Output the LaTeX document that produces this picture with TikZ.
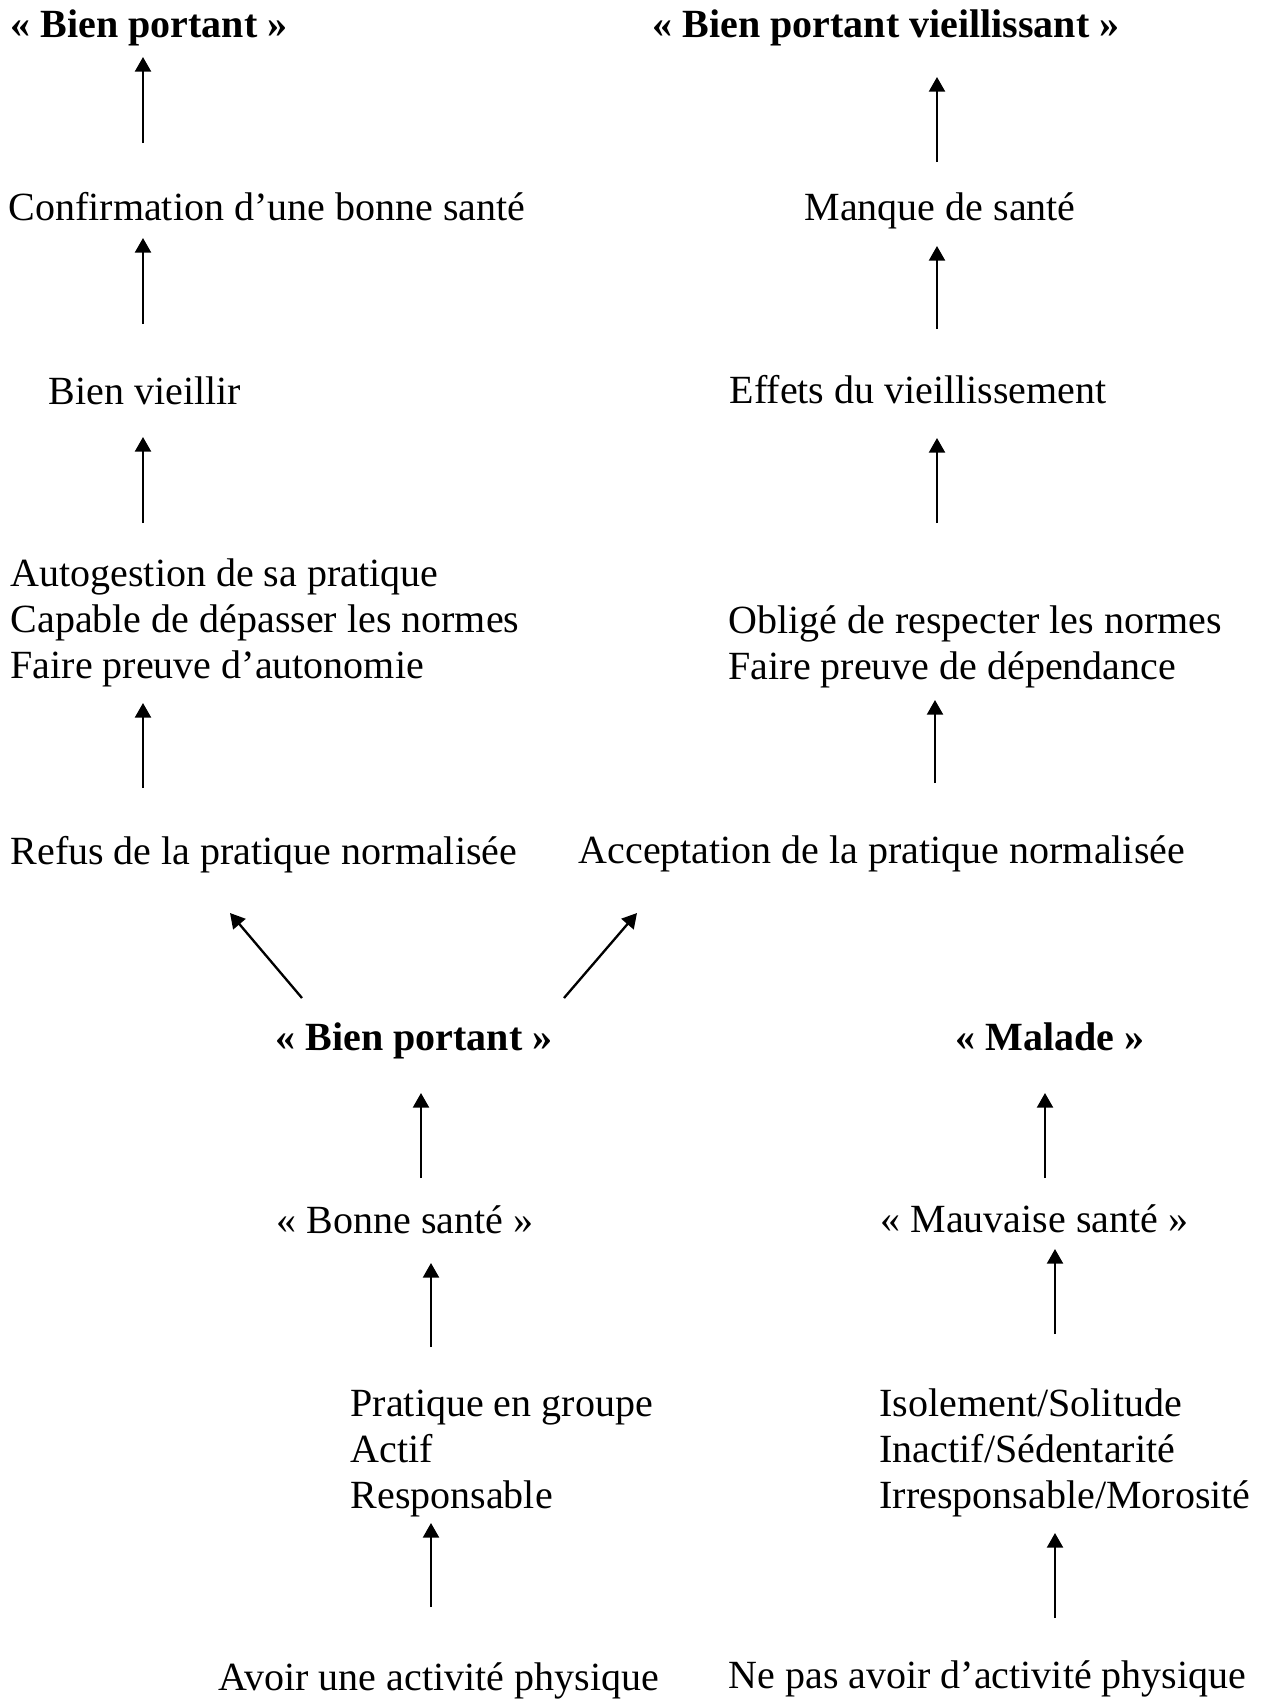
\documentclass[tikz,border=0pt]{standalone}
\usepackage{fontspec}
\setmainfont{Liberation Serif}
\usetikzlibrary{arrows.meta}
\begin{document}
\begin{tikzpicture}
    [
        x=0.3pt, y=-0.3pt,
        txt/.style={anchor=base west, inner sep=0pt, align=left, font=\fontsize{12pt}{13.7pt}\selectfont},
        title/.style={txt, font=\fontsize{12pt}{13.7pt}\selectfont\bfseries},
        arr/.style={-{Triangle[length=4.4pt, width=4.8pt]}, line width=0.7pt},
    ]
    \useasboundingbox (0,0) rectangle (1261,1702);

    % upper part
    \node (bienportant) at (10,37) [title] {«~Bien portant~»};
    \node (bpvieux) at (652,37) [title] {«~Bien portant vieillissant~»};
    \node (confirm) at (8,220) [txt] {Confirmation d’une bonne santé};
    \node (manque) at (804,220) [txt] {Manque de santé};
    \node (vieillir) at (48,404) [txt] {Bien vieillir};
    \node (effets) at (729,403) [txt] {Effets du vieillissement};
    \node (autogestion) at (10,678) [txt] {Autogestion de sa pratique\\Capable de dépasser les normes\\Faire preuve d’autonomie};
    \node (oblige) at (728,679) [txt] {Obligé de respecter les normes\\Faire preuve de dépendance};
    \node (refus) at (10,864) [txt] {Refus de la pratique normalisée};
    \node (accept) at (578,863) [txt] {Acceptation de la pratique normalisée};

    % lower part
    \node (bienportantb) at (275,1050) [title] {«~Bien portant~»};
    \node (malade) at (955,1050) [title] {«~Malade~»};
    \node (bonne) at (276,1233) [txt] {«~Bonne santé~»};
    \node (mauvaise) at (880,1232) [txt] {«~Mauvaise santé~»};
    \node (groupe) at (350,1508) [txt] {Pratique en groupe\\Actif\\Responsable};
    \node (isolement) at (879,1508) [txt] {Isolement/Solitude\\Inactif/Sédentarité\\Irresponsable/Morosité};
    \node (avoir) at (218,1690) [txt] {Avoir une activité physique};
    \node (nepas) at (728,1688) [txt] {Ne pas avoir d’activité physique};

    % arrow ends
    \coordinate (la1) at (143,143);  \coordinate (lb1) at (143,57);
    \coordinate (ra1) at (937,162);  \coordinate (rb1) at (937,77);
    \coordinate (la2) at (143,324);  \coordinate (lb2) at (143,238);
    \coordinate (ra2) at (937,329);  \coordinate (rb2) at (937,246);
    \coordinate (la3) at (143,523);  \coordinate (lb3) at (143,437);
    \coordinate (ra3) at (937,523);  \coordinate (rb3) at (937,438);
    \coordinate (la4) at (143,788);  \coordinate (lb4) at (143,703);
    \coordinate (ra4) at (935,783);  \coordinate (rb4) at (935,700);
    \coordinate (dla) at (302,998);  \coordinate (dlb) at (230,913);
    \coordinate (dra) at (564,998);  \coordinate (drb) at (637,913);
    \coordinate (la5) at (421,1178); \coordinate (lb5) at (421,1093);
    \coordinate (ra5) at (1045,1178); \coordinate (rb5) at (1045,1093);
    \coordinate (la6) at (431,1347); \coordinate (lb6) at (431,1263);
    \coordinate (ra6) at (1055,1334); \coordinate (rb6) at (1055,1249);
    \coordinate (la7) at (431,1607); \coordinate (lb7) at (431,1523);
    \coordinate (ra7) at (1055,1618); \coordinate (rb7) at (1055,1533);

    \draw[arr] (la1) -- (lb1);
    \draw[arr] (ra1) -- (rb1);
    \draw[arr] (la2) -- (lb2);
    \draw[arr] (ra2) -- (rb2);
    \draw[arr] (la3) -- (lb3);
    \draw[arr] (ra3) -- (rb3);
    \draw[arr] (la4) -- (lb4);
    \draw[arr] (ra4) -- (rb4);
    \draw[arr] (dla) -- (dlb);
    \draw[arr] (dra) -- (drb);
    \draw[arr] (la5) -- (lb5);
    \draw[arr] (ra5) -- (rb5);
    \draw[arr] (la6) -- (lb6);
    \draw[arr] (ra6) -- (rb6);
    \draw[arr] (la7) -- (lb7);
    \draw[arr] (ra7) -- (rb7);
\end{tikzpicture}
\end{document}
